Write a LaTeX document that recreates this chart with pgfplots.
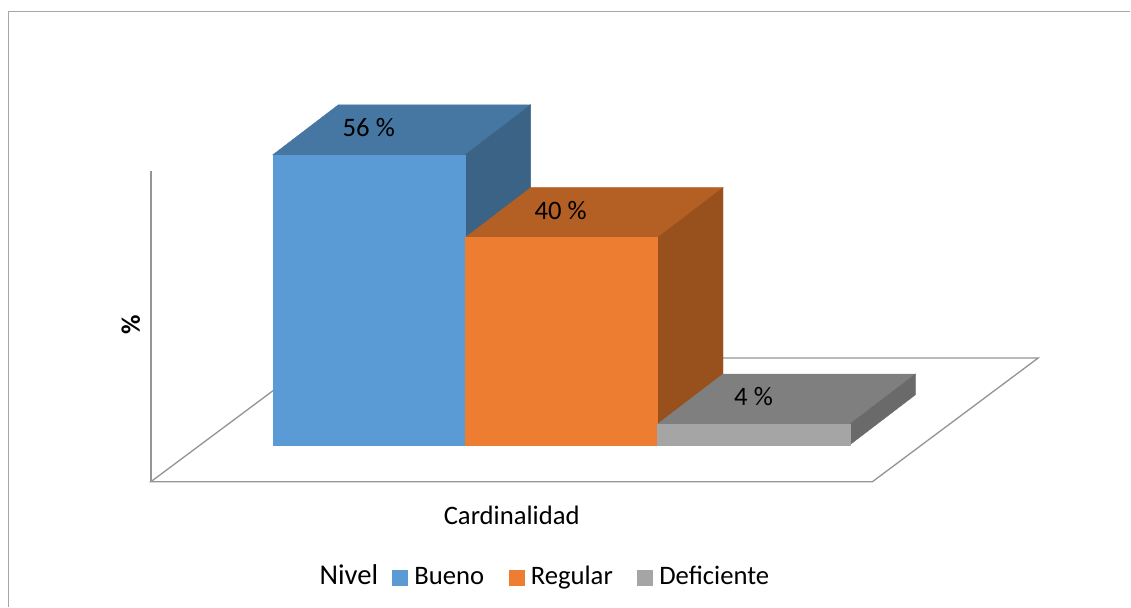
\documentclass[border=0pt]{standalone}
\usepackage{pgfplots}
\pgfplotsset{compat=1.18}
\usepackage{fontspec}
\setmainfont{Carlito}
\definecolor{blueF}{HTML}{5B9BD5}
\definecolor{blueT}{HTML}{4676A2}
\definecolor{blueS}{HTML}{3B6385}
\definecolor{orangeF}{HTML}{ED7D31}
\definecolor{orangeT}{HTML}{B45F24}
\definecolor{orangeS}{HTML}{98501C}
\definecolor{grayF}{HTML}{A5A5A5}
\definecolor{grayT}{HTML}{7F7F7F}
\definecolor{grayS}{HTML}{6A6A6A}
\definecolor{lineG}{HTML}{959595}
\definecolor{frameG}{HTML}{A6A6A6}
\newcommand{\lab}{\fontsize{20bp}{22bp}\selectfont}
\begin{document}
\begin{tikzpicture}
\begin{axis}[
  name=a,
  scale only axis, width=848.25bp, height=455.25bp,
  xmin=-1.41818, xmax=4.45714, ymin=-31.2741, ymax=85.9073,
  axis lines=none, xtick=\empty, ytick=\empty, clip=false,
  legend columns=3,
  legend style={at={(axis cs:0.62,-26.0)}, anchor=west, draw=none, fill=none,
    inner xsep=0pt, inner ysep=0pt,
    font=\fontsize{20bp}{22bp}\selectfont,
    /tikz/every even column/.append style={column sep=13.4bp},
    nodes={inner xsep=5bp, inner ysep=0pt, text height=12bp, text depth=4bp}},
  legend cell align=left,
  legend image code/.code={\fill[#1] (0bp,-4.1bp) rectangle (11.25bp,7.1bp);},
]
% chart frame
\addplot[frameG, line width=1.1bp, forget plot] coordinates {(-1.374,-31.2741) (-1.374,83.687) (4.45714,83.687)};
% floor and wall
\addplot[lineG, line width=1bp, forget plot] coordinates {(-0.6338,-7.143) (3.1169,-7.143) (3.9777,16.737) (0.2286,16.737)} --cycle;
\addplot[lineG, line width=1.1bp, forget plot] coordinates {(-0.6338,-7.143) (-0.6338,52.896)};
% Bueno = 56
\addplot[fill=blueT, draw=blueT, line width=0.3bp, forget plot] coordinates {(0,56) (1,56) (1.34026,65.65) (0.34026,65.65)} --cycle;
\addplot[fill=blueS, draw=blueS, line width=0.3bp, forget plot] coordinates {(1,0) (1.34026,9.65) (1.34026,65.65) (1,56)} --cycle;
\addplot[fill=blueF, draw=blueF, line width=0.3bp] coordinates {(0,0) (1,0) (1,56) (0,56)} --cycle;
\addlegendentry{Bueno}
% Regular = 40
\addplot[fill=orangeT, draw=orangeT, line width=0.3bp, forget plot] coordinates {(1,40) (2,40) (2.34026,49.65) (1.34026,49.65)} --cycle;
\addplot[fill=orangeS, draw=orangeS, line width=0.3bp, forget plot] coordinates {(2,0) (2.34026,9.65) (2.34026,49.65) (2,40)} --cycle;
\addplot[fill=orangeF, draw=orangeF, line width=0.3bp] coordinates {(1,0) (2,0) (2,40) (1,40)} --cycle;
\addlegendentry{Regular}
% Deficiente = 4
\addplot[fill=grayT, draw=grayT, line width=0.3bp, forget plot] coordinates {(2,4) (3,4) (3.34026,13.65) (2.34026,13.65)} --cycle;
\addplot[fill=grayS, draw=grayS, line width=0.3bp, forget plot] coordinates {(3,0) (3.34026,9.65) (3.34026,13.65) (3,4)} --cycle;
\addplot[fill=grayF, draw=grayF, line width=0.3bp] coordinates {(2,0) (3,0) (3,4) (2,4)} --cycle;
\addlegendentry{Deficiente}
% labels
\node[font=\lab, text=black] at (axis cs:0.4987,61.2) {56 \%};
\node[font=\lab, text=black] at (axis cs:1.4961,45.2) {40 \%};
\node[font=\lab, text=black] at (axis cs:2.4987,9.3) {4 \%};
\node[font=\lab, text=black] at (axis cs:1.2416,-13.7) {Cardinalidad};
\node[font=\fontsize{20bp}{22bp}\selectfont\bfseries, rotate=90] at (axis cs:-0.7377,23.1) {\%};
\node[font=\fontsize{21.5bp}{23bp}\selectfont] at (axis cs:0.3948,-25.1) {Nivel};
\end{axis}
\path (a.south west) rectangle (a.north east);
\end{tikzpicture}
\end{document}
